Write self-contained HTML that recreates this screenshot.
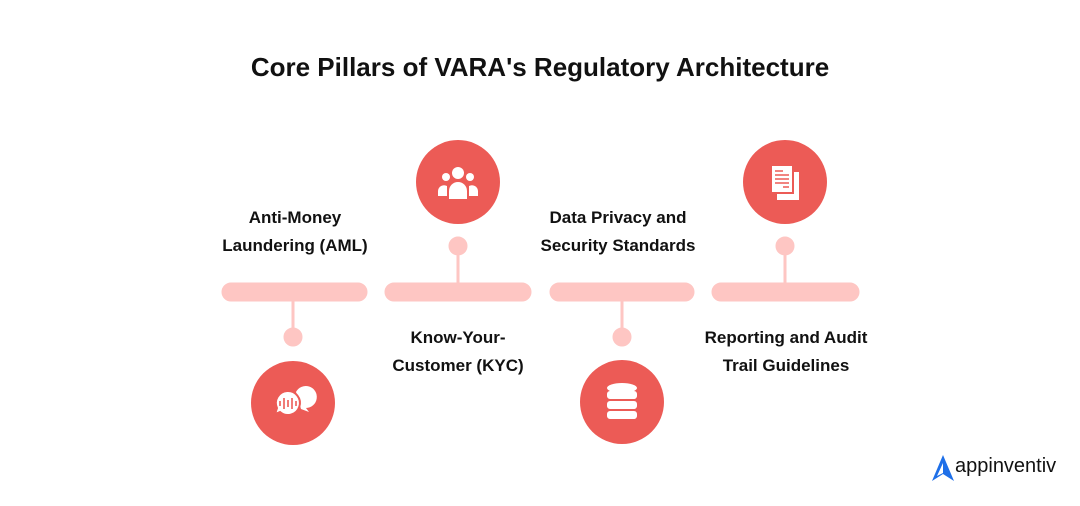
<!DOCTYPE html>
<html><head><meta charset="utf-8"><style>
body{margin:0;width:1080px;height:506px;background:#fff;position:relative;overflow:hidden;font-family:"Liberation Sans",sans-serif}
.t{position:absolute;font-weight:bold;color:#111;text-align:center;font-size:17px;line-height:28px;width:240px}
</style></head><body>
<div style="position:absolute;top:52px;left:0;width:1080px;text-align:center;font-size:26px;font-weight:bold;color:#111">Core Pillars of VARA's Regulatory Architecture</div>
<svg width="1080" height="506" style="position:absolute;left:0;top:0">
<g fill="#FEC6C3" stroke="#FEC6C3">
<rect x="222" y="283" width="145" height="18" rx="9"/>
<rect x="385" y="283" width="146" height="18" rx="9"/>
<rect x="550" y="283" width="144" height="18" rx="9"/>
<rect x="712" y="283" width="147" height="18" rx="9"/>
<line x1="293" y1="292" x2="293" y2="337" stroke-width="3"/>
<line x1="458" y1="246" x2="458" y2="292" stroke-width="3"/>
<line x1="622" y1="292" x2="622" y2="337" stroke-width="3"/>
<line x1="785" y1="246" x2="785" y2="292" stroke-width="3"/>
<circle cx="293" cy="337" r="9"/><circle cx="458" cy="246" r="9"/>
<circle cx="622" cy="337" r="9"/><circle cx="785" cy="246" r="9"/>
</g>
<g fill="#EC5B56">
<circle cx="293" cy="403" r="42"/><circle cx="458" cy="182" r="42"/>
<circle cx="622" cy="402" r="42"/><circle cx="785" cy="182" r="42"/>
</g>
<g fill="#fff">
<circle cx="458" cy="173" r="6"/><circle cx="446" cy="177" r="4"/><circle cx="470" cy="177" r="4"/>
<path d="M449 199v-8a9 9 0 0 1 18 0v8z"/><path d="M438 196v-5a6 6 0 0 1 9-5v10z"/><path d="M478 196v-5a6 6 0 0 0-9-5v10z"/>
<path d="M296 392a11 11 0 1 1 10 16l3 4-8-3z"/>
<path d="M287 391a12 12 0 1 1-7 21l-5 2 2-6a12 12 0 0 1 10-17z" stroke="#EC5B56" stroke-width="2"/>
<g stroke="#EC5B56" stroke-width="1.6"><line x1="280" y1="401" x2="280" y2="406"/><line x1="284" y1="398" x2="284" y2="409"/><line x1="288" y1="400" x2="288" y2="407"/><line x1="292" y1="398" x2="292" y2="409"/><line x1="296" y1="401" x2="296" y2="406"/></g>
<ellipse cx="622" cy="388" rx="15" ry="5"/>
<rect x="607" y="391" width="30" height="8" rx="3"/><rect x="607" y="401" width="30" height="8" rx="3"/><rect x="607" y="411" width="30" height="8" rx="3"/>
<rect x="777" y="172" width="22" height="28"/><rect x="771" y="165" width="22" height="28" stroke="#EC5B56" stroke-width="2"/>
<g stroke="#EC5B56" stroke-width="1.5"><line x1="775" y1="171" x2="783" y2="171"/><line x1="775" y1="175" x2="789" y2="175"/><line x1="775" y1="179" x2="789" y2="179"/><line x1="775" y1="183" x2="789" y2="183"/><line x1="783" y1="187" x2="789" y2="187"/></g>
</g>
<path d="M943 455l-11 26 11-7 11 7z" fill="#1E6FE8"/>
<path d="M943 463l-6 13 6-3z" fill="#fff"/>
</svg>
<div class="t" style="left:175px;top:204px">Anti-Money<br>Laundering (AML)</div>
<div class="t" style="left:338px;top:324px">Know-Your-<br>Customer (KYC)</div>
<div class="t" style="left:498px;top:204px">Data Privacy and<br>Security Standards</div>
<div class="t" style="left:666px;top:324px">Reporting and Audit<br>Trail Guidelines</div>
<div style="position:absolute;left:955px;top:455px;font-size:20px;color:#111">appinventiv</div>
</body></html>
